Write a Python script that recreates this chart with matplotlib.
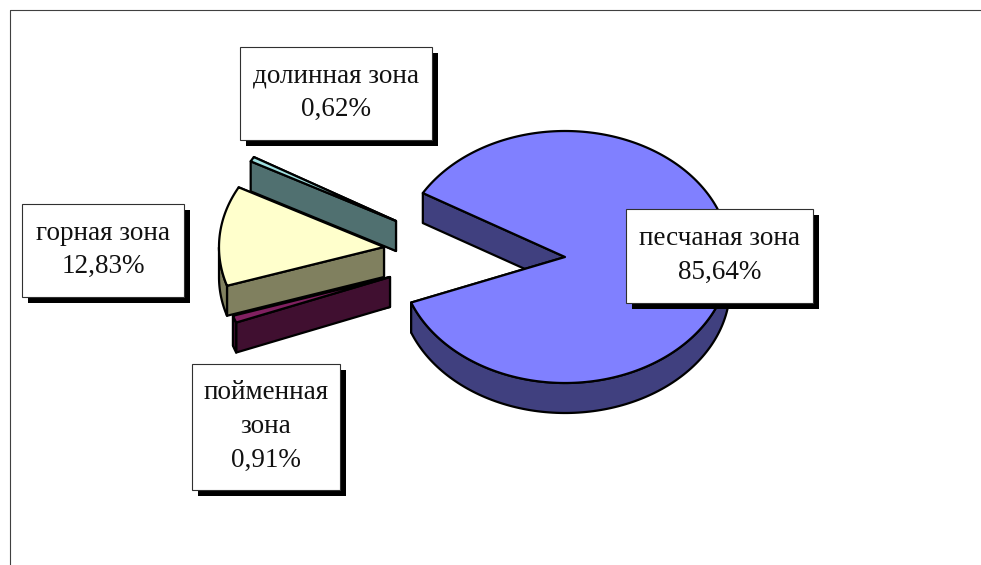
# packages
import numpy as np
import matplotlib
matplotlib.use("Agg")
import matplotlib.pyplot as plt
from matplotlib.patches import Polygon, Rectangle

plt.rcParams['font.family'] = ['Liberation Serif', 'DejaVu Serif']

# data
zones = ["песчаная зона", "пойменная\nзона", "горная зона", "долинная зона"]
shares = [85.64, 0.91, 12.83, 0.62]
share_labels = ["85,64%", "0,91%", "12,83%", "0,62%"]

# slice styles and layout, in pixels
top_colors = ["#8080FF", "#802060", "#FFFFCC", "#A0E0E0"]
side_colors = ["#40407F", "#400F30", "#80805F", "#507070"]
explode_x = [0, -175, -181, -169]
explode_y = [0, 20, -10, -36]
boxes = [(626, 209, 813, 303), (192, 364, 340, 490), (22, 204, 184, 297), (240, 47, 432, 140)]
draw_order = [3, 0, 2, 1]

center_x, center_y = 565, 257
radius_x, radius_y = 165, 126
depth = 30
start_angle = 149.5  # the big slice runs clockwise from here
shadow = 6


def ellipse_points(angles, x0, y0):
    rad = np.radians(angles)
    return np.column_stack([x0 + radius_x * np.cos(rad), y0 - radius_y * np.sin(rad)])


def draw_poly(ax, points, color, z):
    ax.add_patch(Polygon(points, closed=True, facecolor=color, edgecolor="black",
                         linewidth=1.6, joinstyle="round", zorder=z))


def draw_slice(ax, a0, a1, i, z):
    # a0 > a1, the slice goes clockwise from a0 to a1
    x0 = center_x + explode_x[i]
    y0 = center_y + explode_y[i]
    down = np.array([0, depth])
    apex = np.array([x0, y0])
    for a in sorted([a0, a1], key=lambda v: -np.sin(np.radians(v))):
        edge = ellipse_points(np.array([a]), x0, y0)[0]
        draw_poly(ax, [apex, edge, edge + down, apex + down], side_colors[i], z)
    # outer wall, only the part turned to the viewer
    arc = np.linspace(a1, a0, 240)
    front = arc[np.sin(np.radians(arc)) <= 0]
    if len(front) > 1:
        rim = ellipse_points(front, x0, y0)
        draw_poly(ax, np.vstack([rim, (rim + down)[::-1]]), side_colors[i], z)
    draw_poly(ax, np.vstack([apex, ellipse_points(arc, x0, y0)]), top_colors[i], z)


fig = plt.figure(figsize=(9.81, 5.65), dpi=100, facecolor="white")
ax = fig.add_axes([0, 0, 1, 1])
ax.set_xlim(0, 981)
ax.set_ylim(565, 0)
ax.axis("off")

# chart area border, only left and top are inside the picture
ax.plot([9.5, 9.5, 981], [565, 9.5, 9.5], color="#404040", linewidth=0.8, zorder=1)

# slices, clockwise from the start angle
total = sum(shares)
sweeps = [s / total * 360 for s in shares]
ends = start_angle - np.cumsum(sweeps)
starts = np.concatenate([[start_angle], ends[:-1]])

for z, i in enumerate(draw_order):
    draw_slice(ax, starts[i], ends[i], i, z + 2)

# labels
for i, (x0, y0, x1, y1) in enumerate(boxes):
    ax.add_patch(Rectangle((x0 + shadow, y0 + shadow), x1 - x0, y1 - y0,
                           facecolor="black", edgecolor="none", zorder=10))
    ax.add_patch(Rectangle((x0, y0), x1 - x0, y1 - y0, facecolor="white",
                           edgecolor="#303030", linewidth=0.8, zorder=11))
    ax.text((x0 + x1) / 2, (y0 + y1) / 2 - 0.5, zones[i] + "\n" + share_labels[i],
            ha="center", va="center", fontsize=19.5, linespacing=1.46, color="#111111", zorder=12)

fig.savefig("out.png", dpi=100)
